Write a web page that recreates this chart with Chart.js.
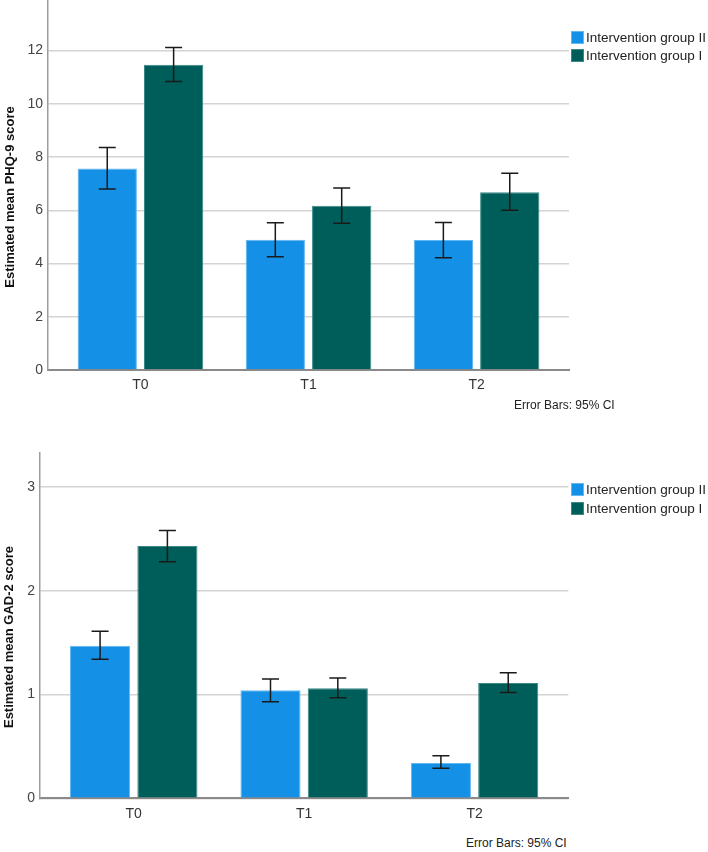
<!DOCTYPE html>
<html>
<head>
<meta charset="utf-8">
<script src="https://cdn.jsdelivr.net/npm/chart.js@4.4.1/dist/chart.umd.min.js"></script>
<style>
  body { margin: 0; background: #fff; font-family: "Liberation Sans", Arial, sans-serif; }
  #page { position: relative; width: 708px; height: 852px; overflow: hidden; }
  canvas { position: absolute; left: 0; }
  .ytitle { position: absolute; font-weight: bold; font-size: 13px; color: #111; white-space: nowrap;
            transform: translate(-50%, -50%) rotate(-90deg); }
  .legend { position: absolute; left: 571px; font-size: 13.5px; color: #222; white-space: nowrap; }
  .legend div { display: flex; align-items: center; height: 18.5px; }
  .legend span.sw { width: 13px; height: 13px; margin-right: 2px; box-sizing: border-box; }
  .note { position: absolute; font-size: 12px; line-height: 14px; color: #222; white-space: nowrap; }
</style>
</head>
<body>
<div id="page">
  <canvas id="phqChart" width="708" height="400" style="top:0"></canvas>
  <canvas id="gadChart" width="708" height="410" style="top:420px"></canvas>
  <div class="ytitle" style="left:8.5px; top:197px">Estimated mean PHQ-9 score</div>
  <div class="ytitle" style="left:7.5px; top:637px">Estimated mean GAD-2 score</div>
  <div class="legend" id="phqLegend" style="top:28px"></div>
  <div class="legend" id="gadLegend" style="top:480.5px"></div>
  <div class="note" style="left:514px; top:398px">Error Bars: 95% CI</div>
  <div class="note" style="left:466px; top:836px">Error Bars: 95% CI</div>
</div>
<script>
const timepoints = ["T0", "T1", "T2"];
const seriesLabels = ["Intervention group II", "Intervention group I"];
const seriesColors = ["#1490e6", "#005e5a"];
const seriesBorders = ["#62b8f2", "#3a8985"];

// PHQ-9: estimated means with 95% CI
const phqGroupII = [7.57, 4.89, 4.88];
const phqGroupIILow = [6.80, 4.25, 4.22];
const phqGroupIIHigh = [8.36, 5.53, 5.54];
const phqGroupI = [11.47, 6.17, 6.68];
const phqGroupILow = [10.84, 5.51, 6.00];
const phqGroupIHigh = [12.12, 6.84, 7.39];
const phqTicks = [0, 2, 4, 6, 8, 10, 12];

// GAD-2: estimated means with 95% CI
const gadGroupII = [1.47, 1.04, 0.34];
const gadGroupIILow = [1.34, 0.93, 0.29];
const gadGroupIIHigh = [1.61, 1.15, 0.41];
const gadGroupI = [2.43, 1.06, 1.11];
const gadGroupILow = [2.28, 0.97, 1.02];
const gadGroupIHigh = [2.58, 1.16, 1.21];
const gadTicks = [0, 1, 2, 3];

const FONT = "'Liberation Sans', Arial, sans-serif";

// draws the CI whiskers on top of each bar
const errorBars = {
    id: "errorBars",
    afterDatasetsDraw(chart) {
        const ctx = chart.ctx;
        const yScale = chart.scales.y;
        ctx.save();
        ctx.strokeStyle = "#1a1a1a";
        ctx.lineWidth = 1.5;
        chart.data.datasets.forEach((ds, i) => {
            chart.getDatasetMeta(i).data.forEach((bar, j) => {
                const top = yScale.getPixelForValue(ds.ciHigh[j]);
                const bottom = yScale.getPixelForValue(ds.ciLow[j]);
                ctx.beginPath();
                ctx.moveTo(bar.x, top); ctx.lineTo(bar.x, bottom);
                ctx.moveTo(bar.x - 8.5, top); ctx.lineTo(bar.x + 8.5, top);
                ctx.moveTo(bar.x - 8.5, bottom); ctx.lineTo(bar.x + 8.5, bottom);
                ctx.stroke();
            });
        });
        ctx.restore();
    }
};

function makeDataset(k, means, low, high) {
    return {
        label: seriesLabels[k],
        data: means.map((v, i) => ({ x: i, y: v })),
        ciLow: low,
        ciHigh: high,
        backgroundColor: seriesColors[k],
        borderColor: seriesBorders[k],
        borderWidth: 1,
        categoryPercentage: 0.79,
        barPercentage: 0.893
    };
}

function makeChart(id, datasets, yTicks, yMax, yWidth, xHeight, pad) {
    return new Chart(document.getElementById(id), {
        type: "bar",
        data: { datasets: datasets },
        plugins: [errorBars],
        options: {
            responsive: false,
            animation: false,
            layout: { padding: pad },
            plugins: { legend: { display: false }, tooltip: { enabled: false } },
            scales: {
                x: {
                    type: "linear",
                    offset: false,
                    min: -0.55,
                    max: 2.55,
                    afterBuildTicks: s => { s.ticks = timepoints.map((t, i) => ({ value: i })); },
                    afterFit: s => { s.height = xHeight; s.paddingLeft = 0; s.paddingRight = 0; },
                    ticks: {
                        callback: v => timepoints[v],
                        font: { family: FONT, size: 14 },
                        color: "#333",
                        padding: 7,
                        maxRotation: 0,
                        autoSkip: false
                    },
                    grid: { drawOnChartArea: false, drawTicks: false },
                    border: { color: "#8a8a8a", width: 2 }
                },
                y: {
                    min: 0,
                    max: yMax,
                    afterBuildTicks: s => { s.ticks = yTicks.map(v => ({ value: v })); },
                    afterFit: s => { s.width = yWidth; s.paddingTop = 0; s.paddingBottom = 0; },
                    ticks: { font: { family: FONT, size: 14 }, color: "#444", padding: 5 },
                    grid: { color: "#d4d4d4", lineWidth: 1.5, drawTicks: false },
                    border: { color: "#9c9c9c", width: 1.5 }
                }
            }
        }
    });
}

function buildLegend(elId) {
    const el = document.getElementById(elId);
    seriesLabels.forEach((label, k) => {
        const row = document.createElement("div");
        const sw = document.createElement("span");
        sw.className = "sw";
        sw.style.background = seriesColors[k];
        sw.style.border = "1px solid " + seriesBorders[k];
        row.appendChild(sw);
        row.appendChild(document.createTextNode(label));
        el.appendChild(row);
    });
}

makeChart("phqChart", [
    makeDataset(0, phqGroupII, phqGroupIILow, phqGroupIIHigh),
    makeDataset(1, phqGroupI, phqGroupILow, phqGroupIHigh)
], phqTicks, 13.9, 48, 30, { top: 0, left: 0, right: 139, bottom: 0 });

makeChart("gadChart", [
    makeDataset(0, gadGroupII, gadGroupIILow, gadGroupIIHigh),
    makeDataset(1, gadGroupI, gadGroupILow, gadGroupIHigh)
], gadTicks, 3.33, 40, 31.7, { top: 32.7, left: 0, right: 139.7, bottom: 0 });

buildLegend("phqLegend");
buildLegend("gadLegend");
</script>
</body>
</html>
